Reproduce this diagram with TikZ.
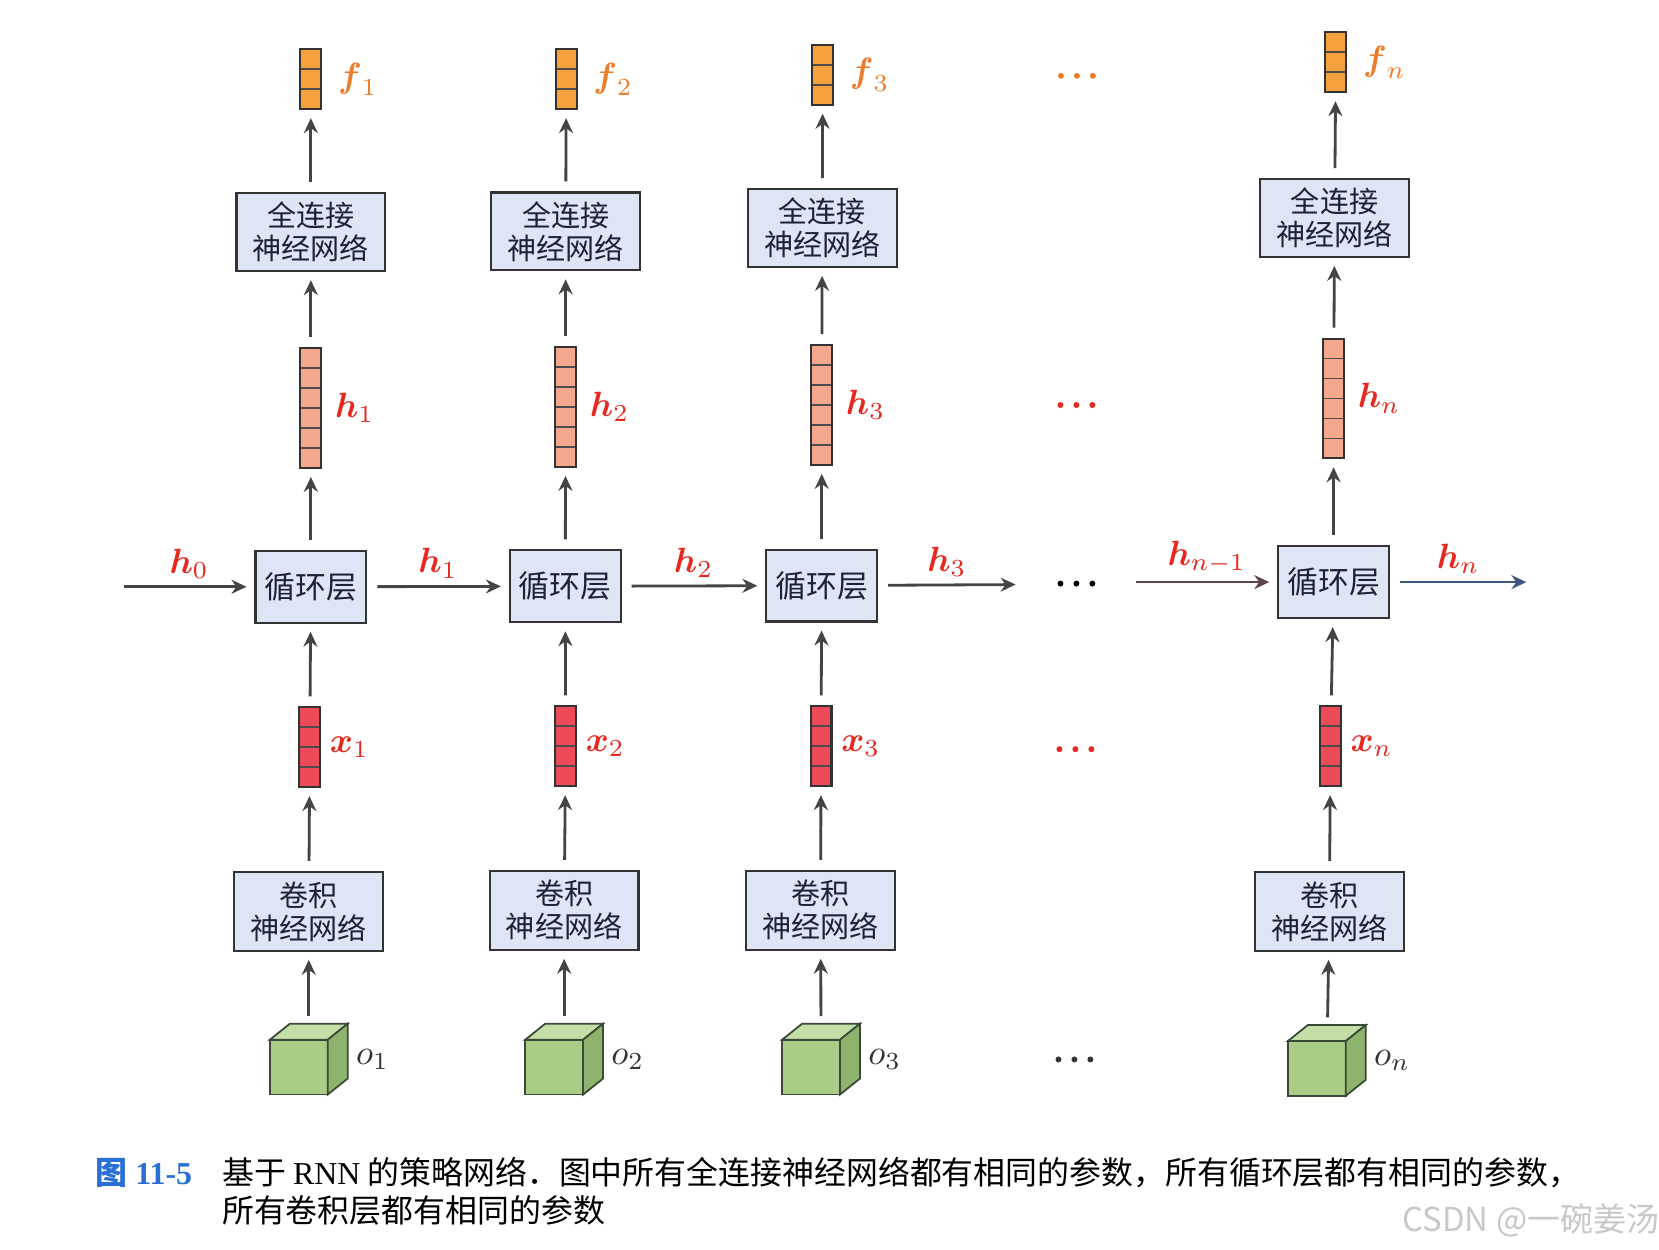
\documentclass[tikz,border=0pt]{standalone}
\usepackage{amsmath}
\usepackage{amssymb}
\usepackage{fontspec}
\setmainfont{Liberation Serif}
\newfontfamily\cjk{Noto Sans CJK SC}
\usepackage{xcolor}
\usepackage{tikz}
\usetikzlibrary{positioning,arrows.meta}
\definecolor{boxfill}{HTML}{DEE5F4}
\definecolor{boxtext}{HTML}{1C2238}
\definecolor{arrgray}{HTML}{444444}
\definecolor{redgray}{HTML}{5E4448}
\definecolor{bluegray}{HTML}{3F5680}
\definecolor{fcell}{HTML}{F5A23E}
\definecolor{hcell}{HTML}{F5A88E}
\definecolor{xcell}{HTML}{EE4B58}
\definecolor{flabel}{HTML}{EE7D2B}
\definecolor{hlabel}{HTML}{E8281E}
\definecolor{olabel}{HTML}{333333}
\definecolor{cubefront}{HTML}{A9CC86}
\definecolor{cubetop}{HTML}{C3DEA6}
\definecolor{cubeside}{HTML}{8DB36C}
\definecolor{cubeline}{HTML}{3B4A36}
\definecolor{capblue}{HTML}{2A6FD6}
\definecolor{wmgray}{HTML}{C8C8C8}
\tikzset{
    box/.style={draw=black!80, line width=0.6pt, fill=boxfill, text=boxtext, align=center, inner sep=0pt, font=\cjk\fontsize{8.3}{9.4}\selectfont},
    fcbox/.style={box, minimum width=14.9mm, minimum height=7.8mm},
    rnnbox/.style={box, minimum width=11.1mm, minimum height=7.2mm, font=\cjk\fontsize{8.8}{10}\selectfont},
    cnnbox/.style={box, minimum width=14.9mm, minimum height=7.9mm},
    cells/.style={draw=black!80, line width=0.6pt, inner sep=0pt, minimum width=2.1mm, minimum height=#1*2mm,
        path picture={\foreach \k in {1,...,#1} \draw[black!70, line width=0.45pt] ([yshift=-\k*2mm]path picture bounding box.north west) -- ([yshift=-\k*2mm]path picture bounding box.north east);}},
    fvec/.style={cells=3, fill=fcell},
    hvec/.style={cells=6, fill=hcell},
    xvec/.style={cells=4, fill=xcell},
    cube/.style={minimum width=8.4mm, minimum height=7.7mm, inner sep=0pt,
        path picture={
            \path (path picture bounding box.south west) ++(0.3mm,0.3mm) coordinate (sw);
            \filldraw[fill=cubefront, draw=cubeline, line width=0.5pt] (sw) rectangle ++(5.8mm,5.5mm);
            \filldraw[fill=cubetop, draw=cubeline, line width=0.5pt] ([yshift=5.5mm]sw) -- ++(2mm,1.6mm) -- ++(5.8mm,0mm) -- ++(-2mm,-1.6mm) -- cycle;
            \filldraw[fill=cubeside, draw=cubeline, line width=0.5pt] ([xshift=5.8mm]sw) -- ++(2mm,1.6mm) -- ++(0mm,5.5mm) -- ++(-2mm,-1.6mm) -- cycle;
        }},
    dotrow/.style={minimum width=4.4mm, minimum height=1mm, inner sep=0pt,
        path picture={\fill[#1] (path picture bounding box.center) circle (0.3mm) +(-1.6mm,0mm) circle (0.3mm) +(1.6mm,0mm) circle (0.3mm);}},
    arr/.style={draw=arrgray, line width=0.8pt, -{Stealth[length=1.5mm, width=1.4mm, inset=0.5mm]}, shorten <=1mm, shorten >=0.8mm},
    lbl/.style={inner sep=0pt, font=\fontsize{10}{12}\selectfont},
    chainlbl/.style={lbl, text=hlabel, above=2pt},
    captext/.style={inner sep=0pt, font=\cjk\fontsize{9.1}{10.8}\selectfont},
    capno/.style={captext, text=capblue, font=\bfseries\fontsize{9.1}{10.8}\selectfont},
    wm/.style={inner sep=0pt, text=wmgray, font=\cjk\fontsize{9.4}{11}\selectfont}
}

\begin{document}
\begin{tikzpicture}[x=0.1mm, y=-0.1mm]
    \fill[white] (0,0) rectangle (1659,1253);

    % 第1列
    \node[fvec] (f1) at (311.6,79.4) {};
    \node[fcbox] (fc1) at (311.6,232.8) {全连接\\神经网络};
    \node[hvec] (h1) at (311.6,409) {};
    \node[rnnbox] (rnn1) at (311.6,588.2) {循环层};
    \node[xvec] (x1) at (310.5,749) {};
    \node[cnnbox] (cnn1) at (309.5,913.6) {卷积\\神经网络};
    \node[cube] (o1) at (309.5,1061.7) {};

    % 第2列
    \node[fvec] (f2) at (567.6,79.4) {};
    \node[fcbox] (fc2) at (567,232) {全连接\\神经网络};
    \node[hvec] (h2) at (567,408) {};
    \node[rnnbox] (rnn2) at (566.6,587.7) {循环层};
    \node[xvec] (x2) at (567,748) {};
    \node[cnnbox] (cnn2) at (565.5,912.5) {卷积\\神经网络};
    \node[cube] (o2) at (565.5,1061.7) {};

    % 第3列
    \node[fvec] (f3) at (824.7,75) {};
    \node[fcbox] (fc3) at (824.2,228.5) {全连接\\神经网络};
    \node[hvec] (h3) at (823.7,406) {};
    \node[rnnbox] (rnn3) at (823.7,587) {循环层};
    \node[xvec] (x3) at (823,748) {};
    \node[cnnbox] (cnn3) at (822.6,912.5) {卷积\\神经网络};
    \node[cube] (o3) at (823,1061.7) {};

    % 第n列
    \node[fvec] (fn) at (1339,62.4) {};
    \node[fcbox] (fcn) at (1337.8,218.5) {全连接\\神经网络};
    \node[hvec] (hn) at (1336.8,399.4) {};
    \node[rnnbox] (rnnn) at (1336.8,583.5) {循环层};
    \node[xvec] (xn) at (1333.6,748) {};
    \node[cnnbox] (cnnn) at (1332.6,913.6) {卷积\\神经网络};
    \node[cube] (on) at (1330,1063) {};

    % 标签
    \node[lbl, text=flabel, right=1.5mm of f1] (f1l) {$\boldsymbol{f}_1$};
    \node[lbl, text=flabel, right=1.5mm of f2] (f2l) {$\boldsymbol{f}_2$};
    \node[lbl, text=flabel, right=1.5mm of f3] (f3l) {$\boldsymbol{f}_3$};
    \node[lbl, text=flabel, right=1.5mm of fn] (fnl) {$\boldsymbol{f}_n$};
    \node[lbl, text=hlabel, right=1.2mm of h1] (h1l) {$\boldsymbol{h}_1$};
    \node[lbl, text=hlabel, right=1.2mm of h2] (h2l) {$\boldsymbol{h}_2$};
    \node[lbl, text=hlabel, right=1.2mm of h3] (h3l) {$\boldsymbol{h}_3$};
    \node[lbl, text=hlabel, right=1.2mm of hn] (hnl) {$\boldsymbol{h}_n$};
    \node[lbl, text=hlabel, right=0.8mm of x1] (x1l) {$\boldsymbol{x}_1$};
    \node[lbl, text=hlabel, right=0.8mm of x2] (x2l) {$\boldsymbol{x}_2$};
    \node[lbl, text=hlabel, right=0.8mm of x3] (x3l) {$\boldsymbol{x}_3$};
    \node[lbl, text=hlabel, right=0.8mm of xn] (xnl) {$\boldsymbol{x}_n$};
    \node[lbl, text=olabel, right=0.4mm of o1] (o1l) {$o_1$};
    \node[lbl, text=olabel, right=0.4mm of o2] (o2l) {$o_2$};
    \node[lbl, text=olabel, right=0.4mm of o3] (o3l) {$o_3$};
    \node[lbl, text=olabel, right=0.4mm of on] (onl) {$o_n$};

    % 省略号
    \node[dotrow=flabel] (fdots) at (1079.5,76) {};
    \node[dotrow=hlabel] (hdots) at (1079,406) {};
    \node[dotrow=black] (rdots) at (1079,585) {};
    \node[dotrow=hlabel] (xdots) at (1078,751) {};
    \node[dotrow=black!80] (odots) at (1077,1062) {};

    % 竖直箭头
    \draw[arr] (fc1) -- (f1);
    \draw[arr] (h1) -- (fc1);
    \draw[arr] (rnn1) -- (h1);
    \draw[arr] (x1) -- (rnn1);
    \draw[arr] (cnn1) -- (x1);
    \draw[arr, shorten <=0.4mm] (o1) -- (cnn1);
    \draw[arr] (fc2) -- (f2);
    \draw[arr] (h2) -- (fc2);
    \draw[arr] (rnn2) -- (h2);
    \draw[arr] (x2) -- (rnn2);
    \draw[arr] (cnn2) -- (x2);
    \draw[arr, shorten <=0.4mm] (o2) -- (cnn2);
    \draw[arr] (fc3) -- (f3);
    \draw[arr] (h3) -- (fc3);
    \draw[arr] (rnn3) -- (h3);
    \draw[arr] (x3) -- (rnn3);
    \draw[arr] (cnn3) -- (x3);
    \draw[arr, shorten <=0.4mm] (o3) -- (cnn3);
    \draw[arr] (fcn) -- (fn);
    \draw[arr] (hn) -- (fcn);
    \draw[arr] (rnnn) -- (hn);
    \draw[arr] (xn) -- (rnnn);
    \draw[arr] (cnnn) -- (xn);
    \draw[arr, shorten <=0.4mm] (on) -- (cnnn);

    % 循环层之间的箭头
    \coordinate (h0s) at (124,588.2);
    \coordinate (h3e) at (1018,586);
    \coordinate (hn1s) at (1139,583.5);
    \coordinate (hne) at (1530,583.5);
    \draw[arr, shorten <=0pt] (h0s) -- (rnn1) node[midway, chainlbl] {$\boldsymbol{h}_0$};
    \draw[arr] (rnn1) -- (rnn2) node[midway, chainlbl] {$\boldsymbol{h}_1$};
    \draw[arr] (rnn2) -- (rnn3) node[midway, chainlbl] {$\boldsymbol{h}_2$};
    \draw[arr, shorten >=0pt] (rnn3) -- (h3e) node[midway, chainlbl] {$\boldsymbol{h}_3$};
    \draw[arr, draw=redgray, shorten <=0pt] (hn1s) -- (rnnn) node[midway, chainlbl] {$\boldsymbol{h}_{n-1}$};
    \draw[arr, draw=bluegray, shorten >=0pt] (rnnn) -- (hne) node[midway, chainlbl] {$\boldsymbol{h}_n$};

    % 图注
    \node[capno, anchor=base west] (capnum) at (95,1187) {{\cjk\bfseries 图} 11-5};
    \node[captext, anchor=base west] (cap1) at (222,1187) {基于 {\rmfamily RNN} 的策略网络．图中所有全连接神经网络都有相同的参数，所有循环层都有相同的参数，};
    \node[captext, anchor=base west] (cap2) at ([yshift=-3.8mm]cap1.base west) {所有卷积层都有相同的参数};
    \node[wm, anchor=base west] (wmark) at (1405,1234) {CSDN @一碗姜汤};
\end{tikzpicture}
\end{document}
